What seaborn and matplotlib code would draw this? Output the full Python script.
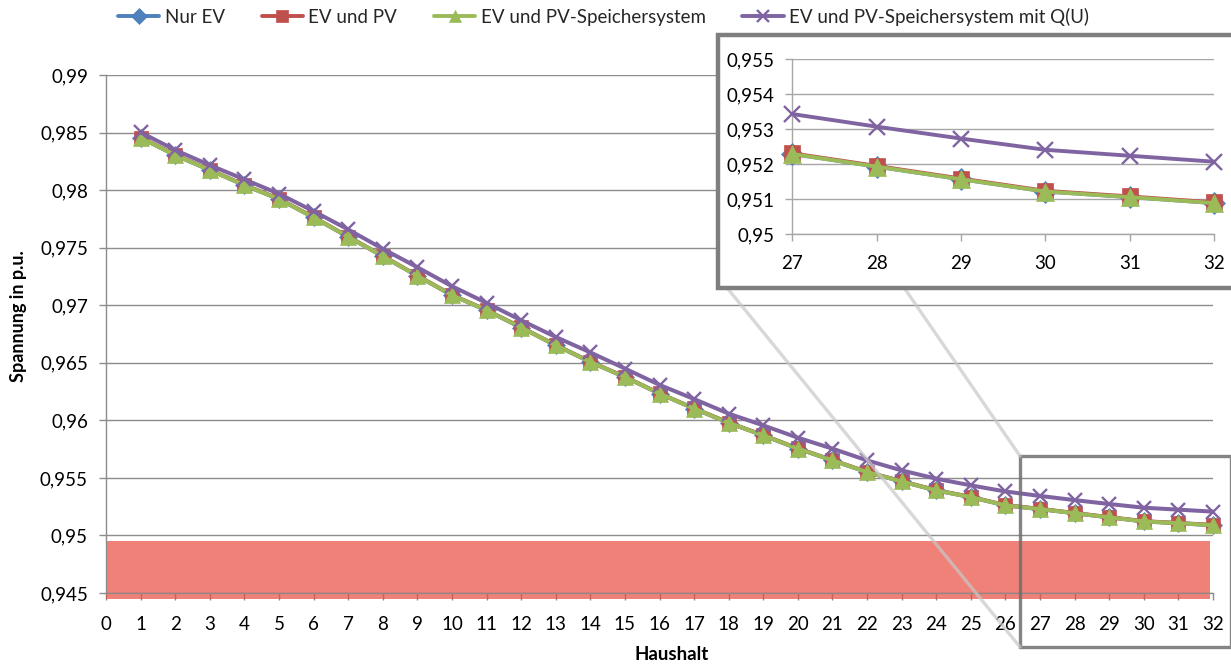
import numpy as np
import pandas as pd
import matplotlib
matplotlib.use("Agg")
import matplotlib.pyplot as plt
from matplotlib.patches import Rectangle
from matplotlib.lines import Line2D
from matplotlib.ticker import FuncFormatter
import seaborn as sns

# ---------------- data ----------------
haushalt = list(range(1, 33))

nur_ev = [0.98455, 0.98304, 0.98174, 0.98043, 0.97922, 0.97763, 0.97594, 0.97426,
          0.97255, 0.97087, 0.96956, 0.96806, 0.96652, 0.96507, 0.96376, 0.96232,
          0.96102, 0.95978, 0.95869, 0.95754, 0.95652, 0.95550, 0.95469, 0.95391,
          0.95333, 0.95261, 0.95229, 0.95193, 0.95157, 0.95122, 0.95106, 0.95089]
ev_pv = [0.98457, 0.98306, 0.98176, 0.98045, 0.97924, 0.97765, 0.97596, 0.97428,
         0.97257, 0.97089, 0.96958, 0.96808, 0.96654, 0.96509, 0.96378, 0.96234,
         0.96104, 0.95980, 0.95871, 0.95756, 0.95654, 0.95552, 0.95471, 0.95393,
         0.95335, 0.95263, 0.95231, 0.95195, 0.95159, 0.95124, 0.95108, 0.95091]
ev_pv_sp = [0.98455, 0.98304, 0.98174, 0.98043, 0.97922, 0.97763, 0.97594, 0.97426,
            0.97255, 0.97087, 0.96956, 0.96806, 0.96652, 0.96507, 0.96376, 0.96232,
            0.96102, 0.95978, 0.95869, 0.95754, 0.95652, 0.95550, 0.95469, 0.95391,
            0.95333, 0.95261, 0.95229, 0.95193, 0.95157, 0.95122, 0.95106, 0.95089]
ev_pv_sp_qu = [0.98502, 0.98348, 0.98217, 0.98093, 0.97968, 0.97817, 0.97658, 0.97490,
               0.97330, 0.97165, 0.97020, 0.96869, 0.96724, 0.96590, 0.96450, 0.96308,
               0.96185, 0.96058, 0.95956, 0.95849, 0.95754, 0.95652, 0.95565, 0.95493,
               0.95435, 0.95382, 0.95343, 0.95307, 0.95273, 0.95241, 0.95224, 0.95207]

series_names = ["Nur EV", "EV und PV", "EV und PV-Speichersystem",
                "EV und PV-Speichersystem mit Q(U)"]
series_values = [nur_ev, ev_pv, ev_pv_sp, ev_pv_sp_qu]
colors = ["#4F81BD", "#C0504D", "#9BBB59", "#8064A2"]
markers = ["D", "s", "^", "x"]

y_ticks_main = [0.945, 0.95, 0.955, 0.96, 0.965, 0.97, 0.975, 0.98, 0.985, 0.99]
x_ticks_main = list(range(0, 33))
y_ticks_inset = [0.95, 0.951, 0.952, 0.953, 0.954, 0.955]
x_ticks_inset = [27, 28, 29, 30, 31, 32]
limit_band = (0.94445, 0.94955)   # red band (below 0.95 p.u.)

df = pd.DataFrame({"Haushalt": haushalt * 4,
                   "Spannung": sum(series_values, []),
                   "Serie": sum([[n] * len(haushalt) for n in series_names], [])})

# ---------------- style ----------------
sns.set_theme(style="white")
plt.rcParams["font.family"] = ["Lato", "DejaVu Sans"]
grid_col = "#8C8C8C"

W, H = 1231, 667
fig = plt.figure(figsize=(W / 100, H / 100), dpi=100)

def fx(px):
    return px / W

def fy(py):
    return 1 - py / H

def comma_fmt(v, pos):
    return ("%.3f" % v).rstrip("0").replace(".", ",")

# main axes
ax = fig.add_axes([fx(106), fy(593), fx(1213) - fx(106), fy(75) - fy(593)])

def draw_series(a, data, msize, lw):
    for name, col, mk in zip(series_names, colors, markers):
        sub = data[data["Serie"] == name]
        size = msize * (1.2 if mk == "^" else 1.0)
        kw = dict(marker=mk, markersize=size, color=col, linewidth=lw)
        if mk == "x":
            kw.update(markeredgecolor=col, markeredgewidth=1.7)
        else:
            kw.update(markeredgecolor=col, markeredgewidth=0.5)
        sns.lineplot(data=sub, x="Haushalt", y="Spannung", ax=a, legend=False,
                     zorder=3, clip_on=False, **kw)

ax.add_patch(Rectangle((0, limit_band[0]), 31.9, limit_band[1] - limit_band[0],
                       facecolor="#EA4C41", alpha=0.7, edgecolor="none",
                       zorder=1, clip_on=False))
draw_series(ax, df, 9.5, 2.9)

ax.set_xlim(0, 32)
ax.set_ylim(0.945, 0.99)
ax.set_xticks(x_ticks_main)
ax.set_yticks(y_ticks_main)
ax.yaxis.set_major_formatter(FuncFormatter(comma_fmt))
ax.grid(axis="y", color=grid_col, linewidth=1.0, zorder=0)
ax.set_axisbelow(True)
for s in ["top", "right"]:
    ax.spines[s].set_visible(False)
for s in ["left", "bottom"]:
    ax.spines[s].set_color(grid_col)
    ax.spines[s].set_linewidth(1.0)
ax.tick_params(axis="both", which="major", length=5, width=1, color=grid_col,
               labelsize=13.5, labelcolor="black", direction="out", bottom=True, left=True)
ax.tick_params(axis="x", pad=11.5)
ax.tick_params(axis="y", pad=8)
ax.set_xlabel("Haushalt", fontsize=13.5, fontweight="bold", color="black",
              va="center")
ax.set_ylabel("Spannung in p.u.", fontsize=13, fontweight="bold", color="black",
              va="center")
ax.xaxis.set_label_coords((672 - 106) / (1213 - 106), -(655 - 593) / (593 - 75))
ax.yaxis.set_label_coords(-(106 - 19) / (1213 - 106), (593 - 316) / (593 - 75))

# zoom box in main axes (27..32 region)
ax.add_patch(Rectangle((26.42, 0.9403), 6.1, 0.01657, facecolor="none",
                       edgecolor="#6E6E6E", alpha=0.85, linewidth=2.4,
                       zorder=5, clip_on=False))

# connector lines
for (x0, y0), (x1, y1) in [((728, 289), (1020, 647)), ((905, 289), (1020, 456))]:
    fig.add_artist(Line2D([fx(x0), fx(x1)], [fy(y0), fy(y1)], color="#C8C8C8",
                          alpha=0.7, linewidth=2.4, zorder=4))

# inset frame
fig.add_artist(Rectangle((fx(718), fy(288)), fx(1240) - fx(718), fy(35) - fy(288),
                         facecolor="white", edgecolor="#7F7F7F", linewidth=3.2,
                         zorder=6))

# inset axes
axi = fig.add_axes([fx(792.3), fy(234.3), fx(1214.3) - fx(792.3), fy(59) - fy(234.3)],
                   zorder=7)
axi.patch.set_alpha(0)
draw_series(axi, df[df["Haushalt"] >= x_ticks_inset[0]], 11, 2.8)
axi.set_xlim(27, 32)
axi.set_ylim(0.95, 0.955)
axi.set_xticks(x_ticks_inset)
axi.set_yticks(y_ticks_inset)
axi.yaxis.set_major_formatter(FuncFormatter(comma_fmt))
axi.grid(axis="y", color="#A6A6A6", linewidth=1.0, zorder=0)
axi.set_axisbelow(True)
for s in ["top", "right"]:
    axi.spines[s].set_visible(False)
for s in ["left", "bottom"]:
    axi.spines[s].set_color("#A6A6A6")
    axi.spines[s].set_linewidth(1.0)
axi.tick_params(axis="both", length=5, width=1, color="#A6A6A6", labelsize=13.5,
                labelcolor="black", direction="out", bottom=True, left=True)
axi.tick_params(axis="x", pad=10)
axi.tick_params(axis="y", pad=8)
axi.set_xlabel("")
axi.set_ylabel("")

# legend
handles = [Line2D([0], [0], color=c, marker=m, markersize=8, linewidth=2.8,
                  markeredgecolor=c, markeredgewidth=1.7 if m == "x" else 0.5)
           for c, m in zip(colors, markers)]
fig.legend(handles, series_names, loc="center left",
           bbox_to_anchor=(fx(118), fy(17)), ncol=4, frameon=False,
           fontsize=13.5, handlelength=2.2, handletextpad=0.3, columnspacing=1.95,
           borderaxespad=0, borderpad=0)

fig.savefig("out.png", dpi=100)
